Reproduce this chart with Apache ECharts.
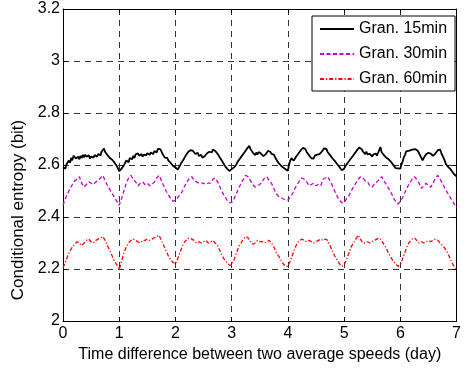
<!DOCTYPE html>
<html><head><meta charset="utf-8">
<script src="https://cdn.jsdelivr.net/npm/echarts@6/dist/echarts.min.js"></script>
<style>html,body{margin:0;padding:0;background:#fff}#c{width:464px;height:370px}</style>
</head><body><div id="c"></div>
<script>
const seriesNames = ['Gran. 15min', 'Gran. 30min', 'Gran. 60min'];
const xTicks = [0, 1, 2, 3, 4, 5, 6, 7];
const yTicks = [2, 2.2, 2.4, 2.6, 2.8, 3, 3.2];
// 15-min granularity, sampled every 30 min (48 per day)
const gran15 = [
2.591,2.598,2.586,2.603,2.608,2.617,2.609,2.627,2.618,2.636,2.638,2.625,2.622,2.632,2.622,2.635,2.627,2.639,2.629,2.640,2.632,2.627,2.637,2.625,2.633,2.640,2.628,2.638,2.642,2.632,2.642,2.646,2.637,2.652,2.656,2.663,2.650,2.646,2.638,2.637,2.627,2.633,2.620,2.618,2.609,2.606,2.596,2.590,
2.576,2.571,2.586,2.589,2.599,2.604,2.617,2.619,2.611,2.627,2.630,2.622,2.635,2.627,2.641,2.634,2.645,2.636,2.631,2.642,2.632,2.640,2.646,2.637,2.645,2.648,2.639,2.648,2.652,2.642,2.654,2.657,2.648,2.662,2.668,2.661,2.653,2.642,2.639,2.628,2.625,2.627,2.617,2.615,2.608,2.605,2.596,2.593,
2.591,2.585,2.582,2.591,2.597,2.608,2.611,2.622,2.627,2.638,2.641,2.651,2.644,2.657,2.662,2.654,2.651,2.642,2.641,2.647,2.635,2.634,2.639,2.628,2.627,2.634,2.640,2.645,2.638,2.651,2.654,2.648,2.659,2.662,2.654,2.651,2.643,2.639,2.628,2.623,2.614,2.609,2.598,2.593,2.586,2.584,2.577,2.582,
2.584,2.589,2.591,2.598,2.602,2.612,2.616,2.624,2.627,2.637,2.640,2.649,2.651,2.662,2.667,2.674,2.662,2.657,2.648,2.646,2.638,2.648,2.640,2.650,2.651,2.644,2.641,2.634,2.633,2.641,2.645,2.654,2.655,2.651,2.643,2.649,2.640,2.633,2.622,2.617,2.608,2.606,2.598,2.596,2.590,2.590,2.584,2.582,
2.578,2.601,2.617,2.626,2.619,2.617,2.623,2.632,2.635,2.644,2.647,2.657,2.659,2.666,2.667,2.661,2.650,2.647,2.638,2.635,2.626,2.633,2.625,2.636,2.629,2.640,2.633,2.642,2.645,2.652,2.655,2.664,2.667,2.661,2.649,2.646,2.638,2.635,2.626,2.625,2.616,2.613,2.604,2.601,2.592,2.589,2.580,2.580,
2.586,2.595,2.599,2.608,2.611,2.620,2.621,2.632,2.635,2.644,2.647,2.657,2.659,2.667,2.667,2.661,2.652,2.649,2.642,2.651,2.641,2.641,2.643,2.639,2.632,2.641,2.634,2.644,2.636,2.647,2.654,2.669,2.649,2.646,2.638,2.637,2.628,2.633,2.622,2.619,2.612,2.609,2.600,2.597,2.588,2.587,2.587,2.592,
2.586,2.602,2.614,2.630,2.639,2.652,2.655,2.654,2.659,2.657,2.661,2.660,2.663,2.661,2.667,2.654,2.647,2.636,2.629,2.618,2.627,2.632,2.641,2.634,2.647,2.649,2.644,2.638,2.635,2.637,2.645,2.649,2.657,2.651,2.659,2.646,2.641,2.626,2.616,2.603,2.601,2.592,2.591,2.583,2.581,2.570,2.567,2.560,
2.556];
// 30-min granularity, sampled hourly (24 per day)
const gran30 = [
2.445,2.47,2.49,2.51,2.525,2.54,2.545,2.555,2.53,2.515,2.525,2.535,2.53,2.525,2.535,2.54,2.55,2.56,2.54,2.52,2.505,2.49,2.475,2.46,
2.445,2.47,2.50,2.53,2.55,2.56,2.545,2.535,2.52,2.53,2.535,2.525,2.53,2.52,2.525,2.535,2.55,2.56,2.54,2.52,2.50,2.485,2.47,2.46,
2.465,2.475,2.485,2.50,2.52,2.535,2.55,2.555,2.54,2.535,2.53,2.53,2.53,2.525,2.53,2.53,2.545,2.55,2.535,2.515,2.495,2.48,2.465,2.455,
2.455,2.47,2.49,2.51,2.53,2.545,2.56,2.555,2.54,2.525,2.515,2.52,2.525,2.535,2.55,2.555,2.54,2.53,2.51,2.49,2.48,2.475,2.47,2.465,
2.465,2.475,2.49,2.51,2.525,2.54,2.55,2.545,2.535,2.52,2.525,2.53,2.52,2.525,2.52,2.545,2.55,2.555,2.54,2.52,2.50,2.48,2.465,2.455,
2.455,2.47,2.48,2.50,2.515,2.53,2.545,2.555,2.55,2.54,2.535,2.52,2.515,2.53,2.535,2.545,2.555,2.54,2.525,2.51,2.495,2.475,2.46,2.45,
2.46,2.475,2.495,2.515,2.53,2.545,2.555,2.545,2.53,2.51,2.52,2.53,2.52,2.515,2.53,2.55,2.56,2.545,2.53,2.51,2.495,2.48,2.465,2.45,
2.435];
// 60-min granularity, hourly (24 per day)
const gran60 = [
2.205,2.225,2.25,2.27,2.285,2.295,2.305,2.30,2.29,2.30,2.31,2.315,2.305,2.30,2.31,2.315,2.32,2.325,2.31,2.29,2.27,2.25,2.23,2.215,
2.198,2.23,2.26,2.285,2.30,2.31,2.315,2.31,2.305,2.30,2.31,2.31,2.315,2.31,2.315,2.32,2.325,2.33,2.31,2.29,2.27,2.25,2.235,2.225,
2.22,2.24,2.265,2.29,2.305,2.315,2.32,2.315,2.31,2.30,2.305,2.30,2.305,2.31,2.30,2.305,2.31,2.30,2.29,2.27,2.25,2.235,2.225,2.215,
2.215,2.235,2.26,2.285,2.30,2.315,2.325,2.32,2.305,2.295,2.30,2.31,2.305,2.305,2.30,2.305,2.31,2.30,2.285,2.265,2.25,2.235,2.22,2.21,
2.21,2.23,2.255,2.28,2.30,2.31,2.315,2.31,2.305,2.31,2.305,2.30,2.305,2.31,2.315,2.31,2.315,2.31,2.29,2.27,2.25,2.235,2.22,2.21,
2.215,2.235,2.26,2.285,2.30,2.315,2.33,2.315,2.30,2.30,2.305,2.30,2.305,2.31,2.315,2.32,2.31,2.295,2.28,2.26,2.245,2.23,2.22,2.21,
2.215,2.24,2.265,2.29,2.305,2.315,2.32,2.31,2.30,2.305,2.30,2.305,2.31,2.305,2.31,2.315,2.31,2.30,2.29,2.28,2.265,2.245,2.225,2.21,
2.20];

function pairs(arr) {
  const span = xTicks[xTicks.length - 1] - xTicks[0];
  const step = span / (arr.length - 1);
  return arr.map((v, i) => [xTicks[0] + i * step, v]);
}

const FONT = 'Liberation Sans';
const chart = echarts.init(document.getElementById('c'), null, {renderer: 'canvas'});
const axisLine = {show: true, onZero: false, lineStyle: {color: '#000', width: 1}};
const tick = {show: true, inside: true, length: 4, lineStyle: {color: '#000'}};
const grid = {show: true, lineStyle: {color: '#333', width: 1, type: [6, 5]}};
chart.setOption({
  animation: false,
  backgroundColor: '#fff',
  grid: {left: 63, right: 7, top: 9, bottom: 49, containLabel: false},
  textStyle: {fontFamily: FONT},
  legend: {
    orient: 'vertical', left: 312, top: 16,
    data: seriesNames,
    backgroundColor: '#fff', borderColor: '#000', borderWidth: 1,
    padding: [5, 8, 4, 7], itemWidth: 34, itemHeight: 12, itemGap: 9,
    itemStyle: {opacity: 0},
    textStyle: {fontFamily: FONT, fontSize: 16, color: '#000'}
  },
  xAxis: [{
    type: 'value', min: xTicks[0], max: xTicks[xTicks.length - 1], interval: 1,
    name: 'Time difference between two average speeds (day)',
    nameLocation: 'middle', nameGap: 26,
    nameTextStyle: {fontFamily: FONT, fontSize: 16, color: '#000'},
    axisLine, axisTick: tick, splitLine: grid,
    axisLabel: {fontFamily: FONT, fontSize: 16, color: '#000', margin: 5}
  }, {
    type: 'value', position: 'top', min: xTicks[0], max: xTicks[xTicks.length - 1], interval: 1,
    axisLine, axisTick: tick, splitLine: {show: false}, axisLabel: {show: false}
  }],
  yAxis: [{
    type: 'value', min: yTicks[0], max: yTicks[yTicks.length - 1], interval: 0.2,
    name: 'Conditional entropy (bit)', nameLocation: 'middle', nameGap: 25, nameRotate: 90,
    nameTextStyle: {fontFamily: FONT, fontSize: 17, color: '#000', padding: [0, 90, 0, 0]},
    axisLine, axisTick: tick, splitLine: grid,
    axisLabel: {fontFamily: FONT, fontSize: 16, color: '#000', margin: 3}
  }, {
    type: 'value', position: 'right', min: yTicks[0], max: yTicks[yTicks.length - 1], interval: 0.2,
    axisLine, axisTick: tick, splitLine: {show: false}, axisLabel: {show: false}
  }],
  series: [{
    name: seriesNames[0], type: 'line', data: pairs(gran15), symbol: 'none',
    lineStyle: {color: '#000', width: 1.8}, itemStyle: {color: '#000'}
  }, {
    name: seriesNames[1], type: 'line', data: pairs(gran30), symbol: 'none',
    lineStyle: {color: '#cc00cc', width: 1.3, type: [4, 2.5]}, itemStyle: {color: '#cc00cc'}
  }, {
    name: seriesNames[2], type: 'line', data: pairs(gran60), symbol: 'none',
    lineStyle: {color: '#ff0000', width: 1.3, type: [4, 2, 1.2, 2]}, itemStyle: {color: '#ff0000'}
  }]
});
</script>
</body></html>
